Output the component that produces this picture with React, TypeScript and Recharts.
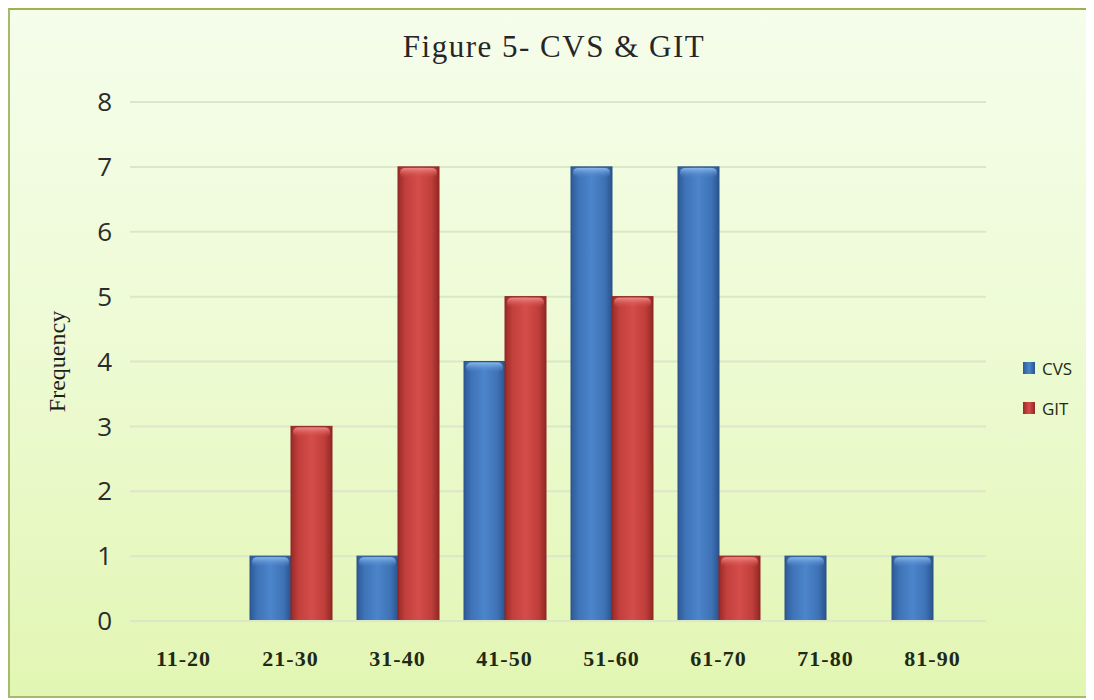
import React from "react";
import { BarChart, Bar, XAxis, YAxis, CartesianGrid } from "recharts";

// score ranges and how many projects fell into each
const RANGES = ["11-20", "21-30", "31-40", "41-50", "51-60", "61-70", "71-80", "81-90"];
const CVS = [0, 1, 1, 4, 7, 7, 1, 1];
const GIT = [0, 3, 7, 5, 5, 1, 0, 0];
const Y_TICKS = [0, 1, 2, 3, 4, 5, 6, 7, 8];

const SERIES = [
  { key: "CVS", grad: "cvsBody", cap: "cvsCap", edge: "#2a538c" },
  { key: "GIT", grad: "gitBody", cap: "gitCap", edge: "#8e2724" },
];

const rows = RANGES.map((range, i) => ({ range, CVS: CVS[i], GIT: GIT[i] }));

function GlassBar(props: any) {
  const { x, y, width, height, grad, cap, edge } = props;
  if (!height || height <= 0) return null;
  return (
    <g>
      <rect x={x} y={y} width={width} height={height} fill={`url(#${grad})`} stroke={edge} strokeWidth={1} />
      <rect x={x + 2} y={y + 1} width={width - 4} height={Math.min(10, height - 2)} rx={5} fill={`url(#${cap})`} />
    </g>
  );
}

function FrequencyLabel(props: any) {
  const vb = props.viewBox || {};
  const cx = 47;
  const cy = vb.y + vb.height / 2;
  return (
    <text
      transform={`translate(${cx},${cy}) rotate(-90)`}
      textAnchor="middle"
      dominantBaseline="central"
      fontFamily="'Liberation Serif', serif"
      fontSize={24}
      fill="#1f1f1f"
    >
      Frequency
    </text>
  );
}

export default function App() {
  return (
    <div
      style={{
        position: "relative",
        width: 1082,
        height: 690,
        boxSizing: "border-box",
        border: "2px solid #a7b96a",
        borderTopColor: "#9fb14f",
        background: "linear-gradient(180deg, #f5fdeb 0%, #eefbd6 45%, #e2f6b3 100%)",
      }}
    >
      <div
        style={{
          position: "absolute",
          left: 0,
          right: 0,
          top: 21,
          textAlign: "center",
          paddingLeft: 10,
          fontFamily: "'Liberation Serif', serif",
          fontSize: 31,
          lineHeight: 1,
          letterSpacing: 1.5,
          color: "#262626",
        }}
      >
        Figure 5- CVS &amp; GIT
      </div>

      <BarChart
        width={1078}
        height={686}
        data={rows}
        margin={{ top: 92, right: 102, bottom: 15, left: 60 }}
        barCategoryGap={13}
        barGap={0}
        style={{ position: "absolute", left: 0, top: 0 }}
      >
        <defs>
          <linearGradient id="cvsBody" x1="0" y1="0" x2="1" y2="0">
            <stop offset="0%" stopColor="#2d5a96" />
            <stop offset="18%" stopColor="#3e73b7" />
            <stop offset="50%" stopColor="#4c85cb" />
            <stop offset="82%" stopColor="#3e72b5" />
            <stop offset="100%" stopColor="#2a548d" />
          </linearGradient>
          <linearGradient id="cvsCap" x1="0" y1="0" x2="0" y2="1">
            <stop offset="0%" stopColor="#8ab8ec" />
            <stop offset="100%" stopColor="#4c85cb" stopOpacity={0} />
          </linearGradient>
          <linearGradient id="gitBody" x1="0" y1="0" x2="1" y2="0">
            <stop offset="0%" stopColor="#992a27" />
            <stop offset="18%" stopColor="#c13f3c" />
            <stop offset="50%" stopColor="#d44d4b" />
            <stop offset="82%" stopColor="#bf3e3a" />
            <stop offset="100%" stopColor="#922724" />
          </linearGradient>
          <linearGradient id="gitCap" x1="0" y1="0" x2="0" y2="1">
            <stop offset="0%" stopColor="#f08a86" />
            <stop offset="100%" stopColor="#d44d4b" stopOpacity={0} />
          </linearGradient>
        </defs>
        <CartesianGrid vertical={false} stroke="#dce6c8" strokeWidth={2} />
        <XAxis
          dataKey="range"
          height={60}
          axisLine={{ stroke: "#dce6c8", strokeWidth: 2 }}
          tickLine={false}
          tickSize={0}
          tickMargin={29}
          tick={{
            fontFamily: "'Liberation Serif', serif",
            fontWeight: 700,
            fontSize: 22,
            letterSpacing: 1,
            fill: "#1f2a16",
          }}
        />
        <YAxis
          width={60}
          domain={[0, 8]}
          ticks={Y_TICKS}
          interval={0}
          axisLine={false}
          tickLine={false}
          tickSize={0}
          tickMargin={18}
          tick={{ fontFamily: "'Open Sans', sans-serif", fontSize: 26, fill: "#2b2b2b" }}
          label={{ content: FrequencyLabel }}
        />
        {SERIES.map((s) => (
          <Bar
            key={s.key}
            dataKey={s.key}
            isAnimationActive={false}
            shape={(p: any) => <GlassBar {...p} grad={s.grad} cap={s.cap} edge={s.edge} />}
          />
        ))}
      </BarChart>

      <div style={{ position: "absolute", left: 1013, top: 346, fontFamily: "'Open Sans', sans-serif", fontSize: 17, color: "#1d2a14" }}>
        {SERIES.map((s, i) => (
          <div key={s.key} style={{ display: "flex", alignItems: "center", height: 24, marginBottom: i === 0 ? 16 : 0 }}>
            <span
              style={{
                display: "inline-block",
                width: 12,
                height: 12,
                marginRight: 7,
                background: s.key === "CVS" ? "linear-gradient(90deg,#2d5a96,#4c85cb,#2a548d)" : "linear-gradient(90deg,#992a27,#d44d4b,#922724)",
              }}
            />
            {s.key}
          </div>
        ))}
      </div>
    </div>
  );
}
